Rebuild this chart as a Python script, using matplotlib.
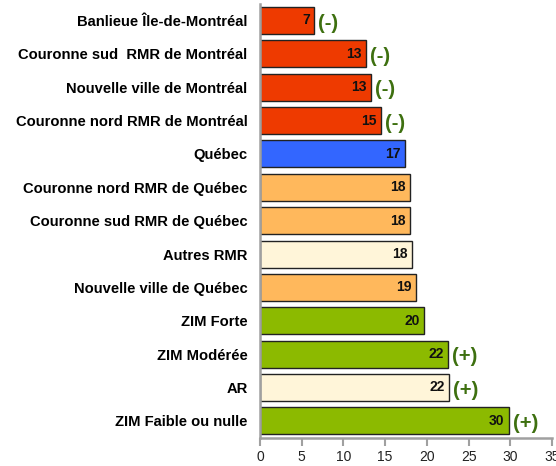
import matplotlib
matplotlib.use("Agg")
import matplotlib.pyplot as plt
from matplotlib import font_manager

categories = ["Banlieue Île-de-Montréal", "Couronne sud  RMR de Montréal",
              "Nouvelle ville de Montréal", "Couronne nord RMR de Montréal",
              "Québec", "Couronne nord RMR de Québec", "Couronne sud RMR de Québec",
              "Autres RMR", "Nouvelle ville de Québec", "ZIM Forte", "ZIM Modérée",
              "AR", "ZIM Faible ou nulle"]
values = [6.5, 12.7, 13.3, 14.5, 17.4, 18.0, 18.0, 18.2, 18.7, 19.7, 22.5, 22.6, 29.8]
labels = ["7", "13", "13", "15", "17", "18", "18", "18", "19", "20", "22", "22", "30"]
signif = ["(-)", "(-)", "(-)", "(-)", "", "", "", "", "", "", "(+)", "(+)", "(+)"]
groups = ["mtl", "mtl", "mtl", "mtl", "qc", "qcr", "qcr", "rmr", "qcr", "zim", "zim", "ar", "zim"]
palette = {"mtl": "#EE3A00", "qc": "#3366FF", "qcr": "#FFB85C", "rmr": "#FFF5D9",
           "zim": "#8CBA00", "ar": "#FFF5D9"}

names = {f.name for f in font_manager.fontManager.ttflist}
narrow = "Liberation Sans Narrow" if "Liberation Sans Narrow" in names else "Liberation Sans"

fig = plt.figure(figsize=(5.56, 4.66), dpi=100)
ax = fig.add_axes([260/556, 28.5/466, 292/556, 433.7/466])

y = list(range(len(categories)))
ax.barh(y, values, height=0.81, color=[palette[g] for g in groups],
        edgecolor="#222222", linewidth=1.0)
ax.set_ylim(len(categories) - 0.5, -0.5)
ax.set_xlim(0, 35)
ax.set_yticks(y)
ax.set_yticklabels(categories, fontsize=10.6, fontweight="bold", family="Liberation Sans")
ax.tick_params(axis="y", length=0, pad=9)
ax.set_xticks(range(0, 36, 5))
ax.tick_params(axis="x", length=6, color="#A0A0A0", width=1.5, pad=3, labelsize=10,
               labelcolor="#222222")
for lab in ax.get_xticklabels():
    lab.set_family(narrow)

for s in ["top", "right"]:
    ax.spines[s].set_visible(False)
for s in ["left", "bottom"]:
    ax.spines[s].set_color("#A0A0A0")
    ax.spines[s].set_linewidth(1.8)

for yi, v, lab, sg in zip(y, values, labels, signif):
    ax.annotate(lab, (v, yi), xytext=(-3, 0), textcoords="offset points",
                ha="right", va="center", fontsize=10, fontweight="bold",
                family=narrow, color="#111111")
    if sg:
        ax.annotate(sg, (v, yi), xytext=(3, -2), textcoords="offset points",
                    ha="left", va="center", fontsize=14.5, fontweight="bold",
                    family="Liberation Sans", color="#3E7010")

fig.savefig("out.png", dpi=100)
